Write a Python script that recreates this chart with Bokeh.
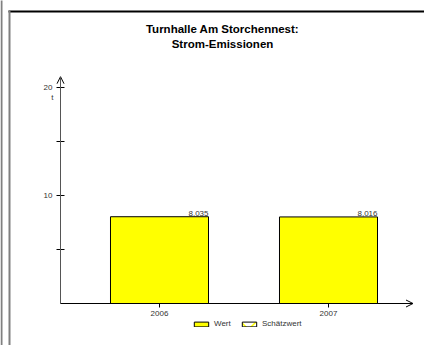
from bokeh.plotting import figure
from bokeh.models import (Range1d, FixedTicker, Arrow, OpenHead, Label, BoxAnnotation,
                          Legend, LegendItem, ColumnDataSource)
from bokeh.embed import file_html
from bokeh.resources import INLINE
from bokeh.core.properties import value

# ---- data ----
years = ["2006", "2007"]
emissions = [8.035, 8.016]
estimates = [None, None]          # no estimated values in this chart
y_ticks = [10, 20]
y_minor_ticks = [5, 15]
unit = "t"
title_lines = ["Turnhalle Am Storchennest:", "Strom-Emissionen"]
legend_labels = ["Wert", "Schätzwert"]

# ---- layout (pixel geometry) ----
W, H = 424, 345
PXX, PXY = 169.0, 10.8
X_ORIGIN_PX, Y_ORIGIN_PX = 159, 303      # page pixel of first category / value 0
x0 = -X_ORIGIN_PX / PXX
y0 = -(H - Y_ORIGIN_PX) / PXY


def px_x(px):
    return x0 + px / PXX


def px_y(py):
    return y0 + (H - py) / PXY


ax_x = px_x(60)
FONT_NAME = "Liberation Sans"
FONT = value(FONT_NAME)
TXT = "#333333"
SMALL = "8px"

p = figure(width=W, height=H, output_backend="svg", toolbar_location=None,
           x_range=Range1d(x0, x0 + W / PXX), y_range=Range1d(y0, y0 + H / PXY),
           min_border=0, min_border_left=0, min_border_right=0,
           min_border_top=0, min_border_bottom=0)
p.outline_line_color = None
p.grid.visible = False
p.background_fill_color = "white"
p.border_fill_color = "white"

xs = list(range(len(years)))
bar_w = 0.58
src = ColumnDataSource(dict(
    x=xs, v=emissions, xr=[x + bar_w / 2 for x in xs],
    lab=[f"{v:.3f}".replace(".", ",") for v in emissions]))
bars = p.vbar(x="x", top="v", width=bar_w, source=src,
              fill_color="#FFFF00", line_color="black", line_width=1)
est_src = ColumnDataSource(dict(x=xs, v=[float("nan") if e is None else e for e in estimates]))
est = p.vbar(x="x", top="v", width=bar_w, source=est_src, fill_color="white",
             hatch_pattern="x", hatch_color="#FFFF00", hatch_scale=16, hatch_weight=1.5,
             line_color="black", line_width=1)
p.text(x="xr", y="v", text="lab", source=src, text_align="right",
       text_baseline="bottom", y_offset=-1, text_font=FONT,
       text_font_size=SMALL, text_color=TXT)

# x axis
xa = p.xaxis[0]
xa.fixed_location = 0
xa.ticker = FixedTicker(ticks=xs)
xa.major_label_overrides = {i: y for i, y in enumerate(years)}
xa.axis_line_color = None
xa.major_tick_in = 0
xa.major_tick_out = 4
xa.major_tick_line_color = "black"
xa.minor_tick_line_color = None
xa.major_label_standoff = 3
xa.major_label_text_font = FONT_NAME
xa.major_label_text_font_size = SMALL
xa.major_label_text_color = TXT

# y axis
ya = p.yaxis[0]
ya.fixed_location = ax_x
ya.ticker = FixedTicker(ticks=y_ticks, minor_ticks=y_minor_ticks)
ya.axis_line_color = None
ya.major_tick_in = 4
ya.major_tick_out = 4
ya.minor_tick_in = 4
ya.minor_tick_out = 4
ya.major_tick_line_color = "black"
ya.minor_tick_line_color = "black"
ya.major_label_standoff = 4
ya.major_label_text_font = FONT_NAME
ya.major_label_text_font_size = SMALL
ya.major_label_text_color = TXT

# axis arrows
p.add_layout(Arrow(end=OpenHead(size=7, line_color="black", line_width=1),
                   x_start=ax_x, y_start=0, x_end=ax_x, y_end=max(y_ticks) + 1,
                   line_color="#555555", line_width=1))
p.add_layout(Arrow(end=OpenHead(size=7, line_color="black", line_width=1),
                   x_start=ax_x, y_start=0, x_end=len(years) - 0.5, y_end=0,
                   line_color="black", line_width=1))

# unit label
p.add_layout(Label(x=ax_x, y=max(y_ticks), x_offset=-7, y_offset=-10, text=unit,
                   text_align="right", text_baseline="middle",
                   text_font=FONT_NAME, text_font_size=SMALL, text_color=TXT))

# title
for i, (line, ty) in enumerate(zip(title_lines, [28, 43])):
    p.add_layout(Label(x=222, y=H - ty, x_units="screen", y_units="screen",
                       text=line, text_align="center", text_baseline="middle",
                       text_font=FONT_NAME, text_font_size="11.5px",
                       text_font_style="bold", text_color="black"))

# frame borders (page decoration), every side given explicitly
p.add_layout(BoxAnnotation(left=px_x(8), right=px_x(W + 2), bottom=px_y(12), top=px_y(10),
                           fill_color="black", fill_alpha=1, line_color=None, line_alpha=0))
p.add_layout(BoxAnnotation(left=px_x(8), right=px_x(10), top=px_y(10), bottom=px_y(H + 2),
                           fill_color="#808080", fill_alpha=1, line_color=None, line_alpha=0))
p.add_layout(BoxAnnotation(left=px_x(0), right=px_x(2), top=px_y(-2), bottom=px_y(H + 2),
                           fill_color="#808080", fill_alpha=1, line_color=None, line_alpha=0))

# legend
legend = Legend(items=[LegendItem(label=legend_labels[0], renderers=[bars]),
                       LegendItem(label=legend_labels[1], renderers=[est])],
                orientation="horizontal", location=(192, H - 328),
                padding=0, margin=0, spacing=6, label_standoff=4,
                glyph_width=18, glyph_height=6, label_height=8,
                label_text_font=FONT_NAME, label_text_font_size=SMALL,
                label_text_color=TXT, border_line_color=None,
                background_fill_alpha=0)
p.add_layout(legend)

open("out.html", "w").write(file_html(p, INLINE))
